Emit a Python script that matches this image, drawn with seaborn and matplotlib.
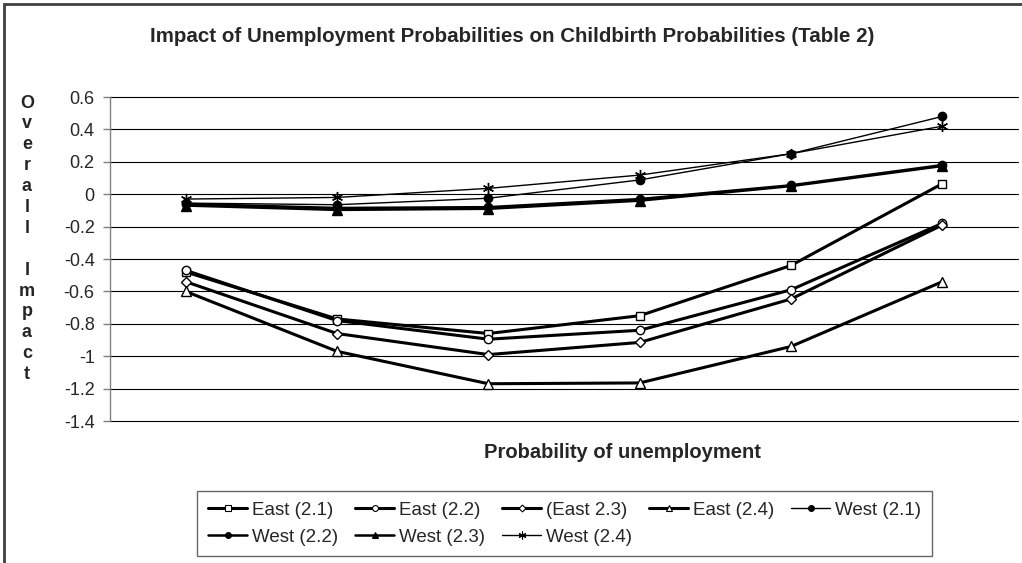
import matplotlib
matplotlib.use('Agg')
import matplotlib.pyplot as plt
import seaborn as sns
from matplotlib.patches import Rectangle
from matplotlib.lines import Line2D

# six (unlabelled) points on the unemployment-probability axis
points = [1, 2, 3, 4, 5, 6]

east_21 = [-0.48, -0.77, -0.86, -0.75, -0.44, 0.065]
east_22 = [-0.47, -0.78, -0.895, -0.84, -0.59, -0.18]
east_23 = [-0.54, -0.86, -0.99, -0.915, -0.647, -0.19]
east_24 = [-0.60, -0.97, -1.17, -1.165, -0.94, -0.54]
west_21 = [-0.055, -0.065, -0.025, 0.088, 0.25, 0.48]
west_22 = [-0.06, -0.085, -0.08, -0.03, 0.055, 0.18]
west_23 = [-0.07, -0.097, -0.09, -0.04, 0.05, 0.174]
west_24 = [-0.03, -0.02, 0.036, 0.118, 0.25, 0.42]

labels = ['East (2.1)', 'East (2.2)', '(East 2.3)', 'East (2.4)',
          'West (2.1)', 'West (2.2)', 'West (2.3)', 'West (2.4)']
series = [east_21, east_22, east_23, east_24, west_21, west_22, west_23, west_24]

yticks = [0.6, 0.4, 0.2, 0, -0.2, -0.4, -0.6, -0.8, -1, -1.2, -1.4]
ytick_labels = ['0.6', '0.4', '0.2', '0', '-0.2', '-0.4', '-0.6', '-0.8', '-1', '-1.2', '-1.4']

title1 = 'Impact of Unemployment Probabilities on Childbirth Probabilities (Table 2)'

sns.set_style('white')
plt.rcParams['font.family'] = ['Liberation Sans', 'DejaVu Sans']

fig = plt.figure(figsize=(10.22, 5.63), dpi=100)
ax = fig.add_axes([110/1022, 1-421/563, 908/1022, 324/563])

styles = [
    dict(marker='s', mfc='white', lw=2.2, ms=6),
    dict(marker='o', mfc='white', lw=2.2, ms=6),
    dict(marker='D', mfc='white', lw=2.2, ms=5),
    dict(marker='^', mfc='white', lw=2.2, ms=7),
    dict(marker='o', mfc='black', lw=1.0, ms=6),
    dict(marker='o', mfc='black', lw=1.8, ms=6),
    dict(marker='^', mfc='black', lw=1.8, ms=7),
    dict(marker=(6, 2, 0), mfc='black', lw=1.0, ms=8),
]

handles = []
for vals, lab, st in zip(series, labels, styles):
    sns.lineplot(x=points, y=vals, ax=ax, color='black', label=lab,
                 marker=st['marker'], markerfacecolor=st['mfc'],
                 markeredgecolor='black', markeredgewidth=1.0,
                 markersize=st['ms'], linewidth=st['lw'])
    # smaller legend swatch, as in the original
    handles.append(Line2D([], [], color='black', linewidth=st['lw'],
                          marker=st['marker'], markerfacecolor=st['mfc'],
                          markeredgecolor='black', markeredgewidth=0.8,
                          markersize=st['ms'] * 0.7))
ax.get_legend().remove()

ax.set_xlim(0.5, 6.5)
ax.set_ylim(-1.4, 0.6)
ax.set_yticks(yticks)
ax.set_yticklabels(ytick_labels)
ax.set_xticks([])
ax.grid(axis='y', color='black', linewidth=0.8)
for gl in ax.get_ygridlines():
    gl.set_clip_on(False)
ax.set_axisbelow(True)
for s in ['top', 'right', 'bottom']:
    ax.spines[s].set_visible(False)
ax.spines['left'].set_color('#808080')
ax.spines['left'].set_linewidth(1.0)
ax.tick_params(axis='y', left=True, direction='out', length=5, width=1,
               color='#808080', labelsize=13, pad=6)
ax.set_xlabel('')
ax.set_ylabel('')

fig.text(512/1022, 1-36/563, title1, ha='center', va='center',
         fontsize=14.8, fontweight='bold')
fig.text(622/1022, 1-452/563, 'Probability of unemployment', ha='center',
         va='center', fontsize=14.5, fontweight='bold')
ylab = 'Overall Impact'
for i, ch in enumerate(ylab):
    fig.text(27/1022, 1-(103 + i*20.9)/563, ch, ha='center', va='center',
             fontsize=13, fontweight='bold')

# outer chart frame
fig.patches.append(Rectangle((4/1022, -0.1), 1.2, 1-4/563+0.1,
                             transform=fig.transFigure, fill=False,
                             edgecolor='#404040', linewidth=2))

order = [0, 5, 1, 6, 2, 7, 3, 4]
leg = fig.legend([handles[i] for i in order], [labels[i] for i in order],
                 ncol=5, loc='upper left', bbox_to_anchor=(197/1022, 1-491/563),
                 bbox_transform=fig.transFigure, borderaxespad=0,
                 frameon=True, fancybox=False, edgecolor='#404040',
                 fontsize=13.5, handlelength=2.1, handletextpad=0.25,
                 columnspacing=0.9, borderpad=0.58, labelspacing=0.5)
leg.get_frame().set_linewidth(1.0)

fig.savefig('out.png', dpi=100)
